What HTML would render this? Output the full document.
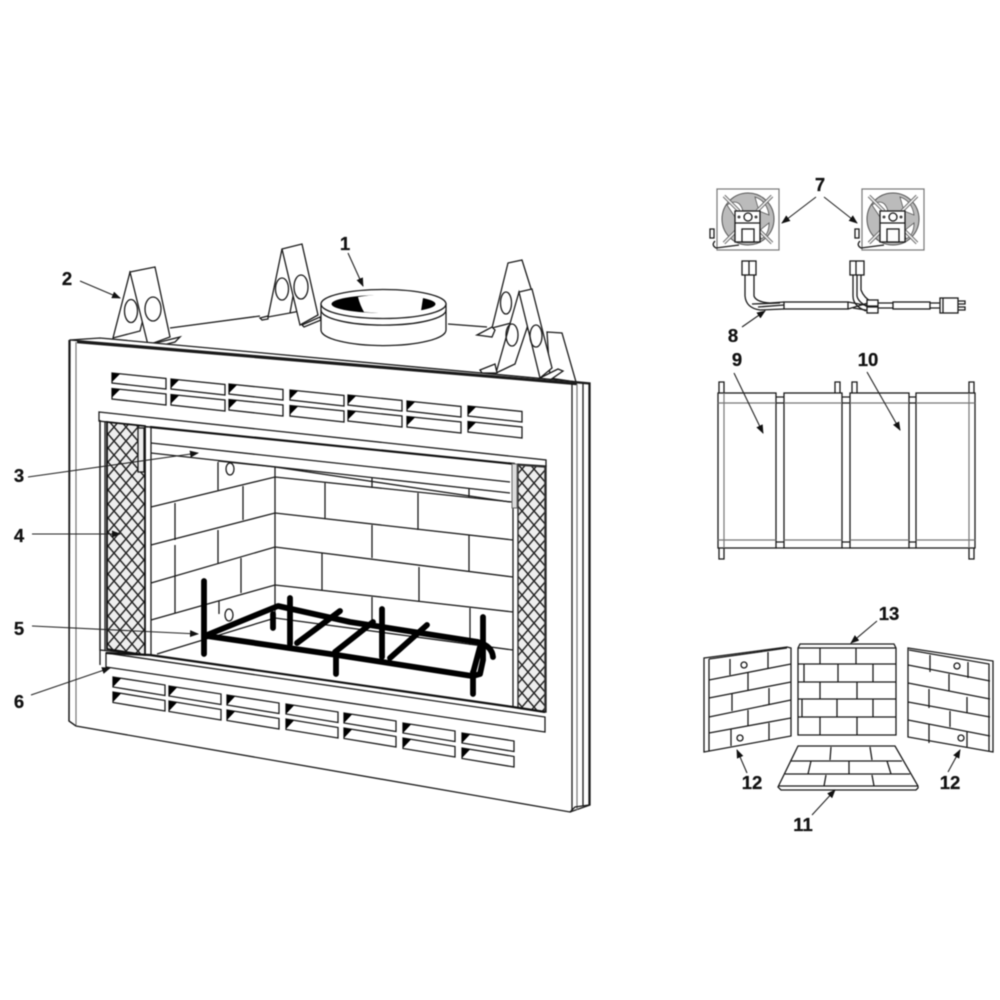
<!DOCTYPE html>
<html><head><meta charset="utf-8"><style>
html,body{margin:0;padding:0;background:#fff}
svg{display:block;filter:blur(.45px)}
text{font-family:"Liberation Sans",sans-serif;font-weight:bold;font-size:18.5px;fill:#111;text-anchor:middle;stroke:#111;stroke-width:.25}
.l{fill:none;stroke:#1a1a1a;stroke-width:1.3}
.w{fill:#fff;stroke:#1a1a1a;stroke-width:1.3}
.g{fill:none;stroke:#777;stroke-width:1.2}
.r{fill:none;stroke:#000;stroke-width:5.8;stroke-linecap:round;stroke-linejoin:round}
.a{fill:none;stroke:#222;stroke-width:1.1;marker-end:url(#ah)}
</style></head><body>
<svg width="1000" height="1000" viewBox="0 0 1000 1000" xmlns="http://www.w3.org/2000/svg">
<defs>
<marker id="ah" markerWidth="9" markerHeight="7" refX="8" refY="3.5" orient="auto" markerUnits="userSpaceOnUse"><path d="M0 0L9 3.5L0 7z" fill="#111"/></marker>
<pattern id="mesh" width="12" height="14" patternUnits="userSpaceOnUse">
<rect width="12" height="14" fill="#eee"/>
<path d="M0 0L12 14M12 0L0 14" stroke="#222" stroke-width="1.4"/>
</pattern>
<g id="vu">
<path class="w" d="M0 0L54 5.5V16L0 10zM0 15.5L54 21V32L0 26z"/>
<path d="M0 0L8 1L0 9zM0 15.5L8 16.5L0 24.5z" fill="#000"/>
</g>
<g id="vl">
<path class="w" d="M0 0L52 8V18.5L0 10zM0 15L52 23.5V34L0 25.5z"/>
<path d="M0 0L8 1.5L0 10zM0 15L8 16.5L0 25z" fill="#000"/>
</g>
<g id="fan">
<rect class="g" x="0" y="0" width="62" height="61" fill="#fff"/>
<circle cx="31" cy="30" r="26" fill="#bbb" stroke="#555"/>
<path d="M10 16Q22 8 26 22L18 28zM38 8Q50 12 52 26L42 22zM42 42L52 34Q52 46 44 50z" fill="#fff" stroke="#555" stroke-width=".8"/>
<path d="M7 7L22 22M55 7L40 22M7 54L20 41M55 54L42 41" stroke="#666" stroke-width="3.5"/>
<path d="M7 7L22 22M55 7L40 22M7 54L20 41M55 54L42 41" stroke="#eee" stroke-width="1.6"/>
<rect class="w" x="18" y="22" width="25" height="31"/>
<path class="l" d="M18 34H43"/>
<circle class="w" cx="31" cy="28" r="4"/>
<circle cx="22" cy="28" r="1.5" fill="#444"/><circle cx="39" cy="28" r="1.5" fill="#444"/>
<rect class="w" x="25" y="40" width="12" height="13"/>
<path class="l" d="M-2 52Q-6 56 -1 59L22 56M-7 40H-3V49H-7z"/>
</g>
</defs>

<!-- bracket rear lines -->
<path class="l" d="M170 328L260 316M290 313L300 311M448 324L487 327"/>

<!-- brackets -->
<g id="brackets">
<path class="w" d="M130 272L113 338L140 331L148 300z"/>
<path class="w" d="M130 272L155 267L170 337L148 345z"/>
<path class="w" d="M152 344L180 337L175 342L155 347z"/>
<ellipse class="l" cx="131" cy="311" rx="6.5" ry="11.5"/>
<ellipse class="l" cx="153" cy="309" rx="8" ry="12"/>
<path class="l" d="M282 249L268 317L290 313L295 285"/>
<path class="w" d="M282 249L302 244L318 315L300 325z"/>
<path class="w" d="M302 325L320 317L321 320L304 327z"/>
<path class="w" d="M260 318L268 316V319L262 320z"/>
<ellipse class="l" cx="282" cy="289" rx="6.5" ry="11"/>
<ellipse class="l" cx="301" cy="287" rx="7" ry="12"/>
<path class="w" d="M547 332L562 333L576 382L550 378z"/>
<path class="w" d="M508 263L522 260L533 295L519 310L515 322L492 328z"/>
<path class="w" d="M477 335L492 327L495 330L492 337z"/>
<ellipse class="l" cx="506" cy="303" rx="5.5" ry="11"/>
<ellipse class="l" cx="523" cy="327" rx="4" ry="6"/>
<path class="w" d="M519 292L496 373L515 364L528 325z"/>
<path class="w" d="M519 292L532 289L552 368L540 378z"/>
<path class="w" d="M480 370L495 364L497 373L482 373z"/>
<path class="w" d="M540 378L558 369L563 371L550 380z"/>
<ellipse class="l" cx="512" cy="335" rx="6" ry="11"/>
<ellipse class="l" cx="536" cy="336" rx="6" ry="11"/>
</g>

<!-- flue collar -->
<path class="w" d="M321 304V330A62 15.5 0 0 0 446 330V304z"/>
<ellipse class="w" cx="383.500" cy="304" rx="62.500" ry="14.500"/>
<path class="l" d="M321 310A62 15 0 0 0 446 310"/>
<ellipse cx="383.500" cy="304" rx="52" ry="9" fill="#000"/>
<path d="M358 297Q395 291 423 298L421 311Q395 315 364 312Q360 305 358 297z" fill="#fff"/>

<!-- main body -->
<path class="w" d="M70 340L100 338L590 383V805L570 812L76 726L69 721z"/>
<path class="l" d="M77 342L577 384" style="stroke-width:2.4"/>
<path class="l" d="M70 340L590 384"/>
<path class="g" d="M76 342V726"/>
<path class="l" d="M69 340V721L76 726"/>
<path class="l" d="M572 384V808Q572 812 570 812M583 384V806"/>
<path class="g" d="M577 384V810"/>
<path class="l" d="M589 384V805L575 807L570 812"/>

<!-- upper vents -->
<use href="#vu" x="112" y="373"/><use href="#vu" x="171" y="379"/><use href="#vu" x="229" y="384"/>
<use href="#vu" x="290" y="390"/><use href="#vu" x="348" y="395"/><use href="#vu" x="407" y="401"/><use href="#vu" x="468" y="406"/>
<!-- lower vents -->
<use href="#vl" x="113" y="677"/><use href="#vl" x="169" y="686"/><use href="#vl" x="227" y="695"/>
<use href="#vl" x="286" y="704"/><use href="#vl" x="344" y="713"/><use href="#vl" x="403" y="723"/><use href="#vl" x="462" y="733"/>

<!-- opening -->
<path class="w" d="M100 420L150 427L515 464L546 466V712L513 707L150 655L100 650z"/>

<!-- interior brick -->
<g>
<path class="l" d="M151 443L510 482M151 453L510 493"/>
<path class="l" d="M275 467V618"/>
<path class="l" d="M218 461L275 467L510 502"/>
<path class="l" d="M151 507L275 477L512 502M151 545L275 513L513 540M151 583L275 547L513 577M151 620L275 585L513 612M157 654L275 618L513 650"/>
<path class="l" d="M218 462V490M175 503V540M243 486V520M175 578V613M218 530V563M241 558V593M219 601V614M175 545V578"/>
<path class="l" d="M325 483V518M372 478V488M418 493V530M469 489V498M372 525V558M469 535V572M322 553V590M419 567V602M372 597V625M470 608V645"/>
</g>
<ellipse class="l" cx="230" cy="469" rx="4" ry="6"/>
<ellipse class="l" cx="229" cy="615" rx="4" ry="6"/>

<!-- top trim band -->
<path class="w" d="M99 412L546 460V466L515 464L150 427L99 421z"/>
<path d="M150 427L515 464" stroke="#111" stroke-width="2.2" fill="none"/>
<path class="l" d="M100 420V665M105 421V650"/>

<!-- meshes -->
<path d="M107 422L145 426V655L107 649z" fill="url(#mesh)" stroke="#111" stroke-width="1.8"/>
<path d="M518 465L545 467V712L518 708z" fill="url(#mesh)" stroke="#333" stroke-width="1.5"/>
<path class="l" d="M145 427H151V655M513 463V707"/>
<!-- rods -->
<rect class="w" x="138" y="428" width="6" height="44" style="fill:#eee"/>
<rect x="512" y="464" width="5" height="44" fill="#ddd" stroke="#666"/>

<!-- bottom trim band -->
<path class="w" d="M106 653L545 717V732L106 667z"/>
<path d="M106 653L150 655M150 655L513 707L545 712" stroke="#111" stroke-width="2.2" fill="none"/>

<!-- grate -->
<g class="r">
<path d="M204 581V654"/>
<path d="M207 635L278 606L350 622L478 642Q492 646 493 657"/>
<path d="M207 636L337 655L472 676"/>
<path d="M290 598V644"/>
<path d="M382 609V657"/>
<path d="M336 655V674"/>
<path d="M473 672V694"/>
<path d="M483 617V660L480 674L473 676"/>
<path d="M480 647L473 673"/>
<path d="M297 643L340 611"/>
<path d="M335 652L373 622"/>
<path d="M390 658L427 625"/>
<path d="M273 614V628"/>
</g>

<!-- right: fans -->
<use href="#fan" x="717" y="189"/>
<use href="#fan" x="862" y="189"/>
<!-- harness -->
<rect class="w" x="742" y="261" width="14" height="14"/><path class="l" d="M749 261V275"/>
<rect class="w" x="850" y="261" width="14" height="14"/><path class="l" d="M856 261V275"/>
<path class="l" d="M745 275V296Q746 308 760 310L784 309M754 275V296Q756 302 770 303L784 302"/>
<path class="l" d="M752 304L780 303M758 307L784 305"/>
<rect class="w" x="784" y="302" width="64" height="7"/>
<path class="l" d="M853 275V296Q853 306 866 311M857 275V296Q858 302 868 307M861 275V290Q864 298 872 302"/>
<path class="l" d="M848 302L870 306M848 309L868 303M853 308L872 311"/>
<rect class="w" x="867" y="300" width="11" height="6"/><rect class="w" x="867" y="307" width="11" height="6"/>
<path class="l" d="M878 303H893M878 308H893"/>
<rect class="w" x="893" y="302" width="37" height="7"/>
<path class="l" d="M930 303H940M930 308H940"/>
<rect class="w" x="940" y="298" width="18" height="15"/>
<path class="l" d="M943 298V313M958 301H965V304H958M958 307H965V310H958"/>

<!-- panels 9/10 -->
<path class="l" d="M719 393V382H724V393M835 393V382H840V393M852 393V382H857V393M969 393V382H974V393"/>
<path class="l" d="M719 548V559H724V548M969 548V559H974V548"/>
<path class="l" d="M776 397H784M776 403H784M842 397H850M842 403H850M909 397H916M909 403H916M776 542H784M776 548H784M842 542H850M842 548H850M909 542H916M909 548H916"/>
<rect class="w" x="718" y="393" width="58" height="155"/>
<rect class="w" x="784" y="393" width="58" height="155"/>
<rect class="w" x="850" y="393" width="59" height="155"/>
<rect class="w" x="916" y="393" width="59" height="155"/>
<path class="g" d="M718 403H776M784 403H842M850 403H909M916 403H975M718 540H776M784 540H842M850 540H909M916 540H975M724 393V548M969 393V548"/>

<!-- brick panel left -->
<path class="w" d="M704 658L787 647L791 648V736L704 752z"/>
<path class="l" d="M709 659L787 648M709 659V751"/>
<path class="l" d="M709 680L791 664M709 698L791 682M709 717L791 700M709 733L791 718"/>
<path class="l" d="M730 659V675M768 652V668M748 673V690M732 694V711M769 688V705M748 710V726M731 729V746M769 723V740"/>
<circle class="l" cx="744" cy="665" r="3"/><circle class="l" cx="740" cy="738" r="3"/>
<!-- brick panel center -->
<path class="w" d="M800 644H894L896 648V735H798V648z"/>
<path class="l" d="M798 648H896M798 664H896M798 682H896M798 699H896M798 717H896"/>
<path class="l" d="M820 648V664M856 648V664M804 664V682M838 664V682M873 664V682M820 682V699M857 682V699M802 699V717M837 699V717M873 699V717M820 717V735M857 717V735"/>
<!-- brick panel right -->
<path class="w" d="M908 648L993 661V752L908 737z"/>
<path class="l" d="M909 650L989 664V751"/>
<path class="l" d="M908 665L990 681M908 683L990 699M908 702L990 717M908 720L990 736"/>
<path class="l" d="M930 655V672M968 662V678M949 674V691M929 689V708M967 697V713M950 711V727M929 724V743M967 732V748"/>
<circle class="l" cx="957" cy="666" r="3"/><circle class="l" cx="961" cy="738" r="3"/>
<!-- floor -->
<path class="w" d="M798 746H895L918 786V788L916 790H781L778 787z"/>
<path class="l" d="M778 786H918M790 761H902M785 774H910"/>
<path class="l" d="M831 747L830 760M870 747L872 760M811 761L808 774M849 761V774M887 761L891 774M826 775L824 786M872 775L874 786"/>

<!-- leaders -->
<path class="a" d="M348 253L363 286"/>
<path class="a" d="M80 281L120 298"/>
<path class="a" d="M28 477L198 453"/>
<path class="a" d="M32 534L120 534"/>
<path class="a" d="M32 626L198 634"/>
<path class="a" d="M31 695L110 668"/>
<path class="a" d="M816 197L782 223"/>
<path class="a" d="M824 197L857 223"/>
<path class="a" d="M742 327L765 311"/>
<path class="a" d="M734 373L763 433"/>
<path class="a" d="M867 372L900 430"/>
<path class="a" d="M812 815L835 790"/>
<path class="a" d="M747 773L737 750"/>
<path class="a" d="M948 772L960 750"/>
<path class="a" d="M877 621L851 643"/>

<!-- labels -->
<text x="345" y="250">1</text>
<text x="67" y="285">2</text>
<text x="19" y="482">3</text>
<text x="19" y="542">4</text>
<text x="19" y="635">5</text>
<text x="19" y="708">6</text>
<text x="820" y="191">7</text>
<text x="733" y="342">8</text>
<text x="737" y="366">9</text>
<text x="868" y="366">10</text>
<text x="803" y="831">11</text>
<text x="752" y="789">12</text>
<text x="950" y="789">12</text>
<text x="889" y="620">13</text>
</svg>
</body></html>
